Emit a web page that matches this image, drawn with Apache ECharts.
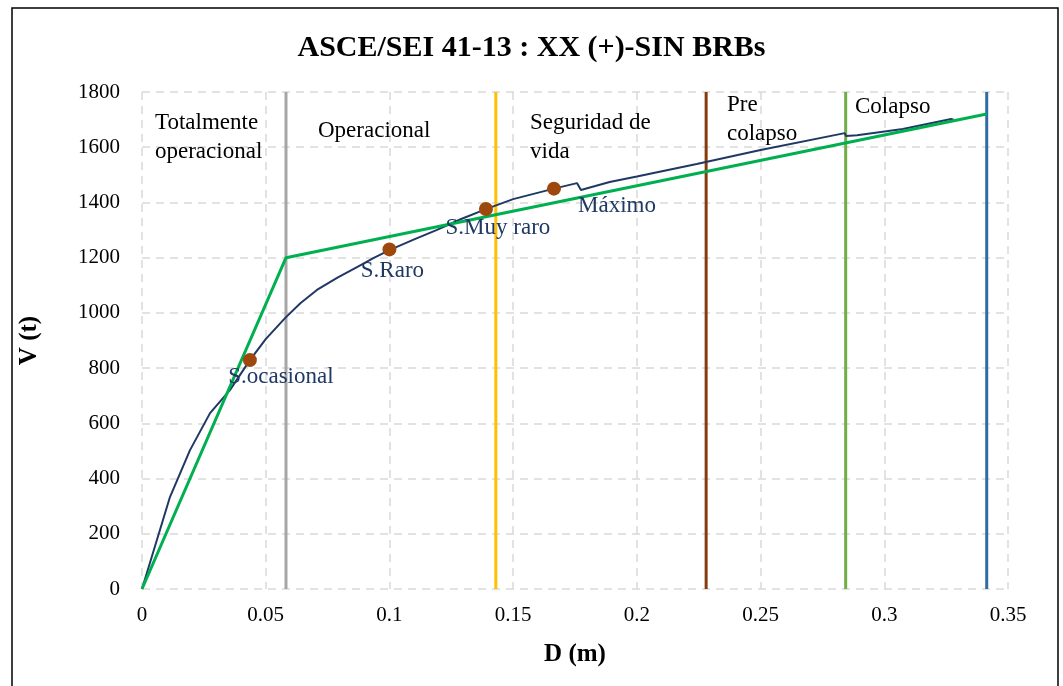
<!DOCTYPE html>
<html><head><meta charset="utf-8">
<script src="https://cdn.jsdelivr.net/npm/echarts@6/dist/echarts.min.js"></script>
<style>html,body{margin:0;padding:0;background:#fff}#c{width:1063px;height:686px}</style>
</head><body><div id="c"></div>
<script>
// Capacity (pushover) curve D (m), V (t)
const curveD = [0, 0.0113, 0.0194, 0.0275, 0.0356, 0.0436, 0.05, 0.0578, 0.064, 0.0707, 0.079, 0.0869, 0.0935, 0.1002, 0.11, 0.119, 0.129, 0.139, 0.15, 0.1665, 0.1758, 0.1774, 0.189, 0.2, 0.2242, 0.2246, 0.25, 0.284, 0.2845, 0.289, 0.3075, 0.327, 0.328];
const curveV = [0, 333, 503, 637, 721, 829, 905, 981, 1035, 1083, 1128, 1166, 1198, 1228, 1266, 1300, 1340, 1376, 1412, 1450, 1470, 1445, 1474, 1494, 1539, 1546, 1590, 1651, 1641, 1643, 1666, 1702, 1700];
// Bilinear idealisation
const bilinD = [0, 0.0582, 0.3414];
const bilinV = [0, 1200, 1720];
// Performance points
const pointNames = ['S.ocasional', 'S.Raro', 'S.Muy raro', 'Máximo'];
const pointD = [0.0436, 0.1, 0.139, 0.1665];
const pointV = [829, 1230, 1376, 1450];
// Performance level limits
const limitD = [0.0582, 0.143, 0.228, 0.2844, 0.3414];
const zoneNames = ['Totalmente\noperacional', 'Operacional', 'Seguridad de\nvida', 'Pre\ncolapso', 'Colapso'];
const xTicks = ['0', '0.05', '0.1', '0.15', '0.2', '0.25', '0.3', '0.35'];

const limitColors = ['#A6A6A6', '#FFC000', '#843C0C', '#70AD47', '#2E6DA4'];
const labelOffsets = [[31, 17], [3, 22], [12, 19], [63, 17]];
const zonePos = [[155, 108], [318, 116], [530, 108], [727, 90], [855, 92]];

const serif = '"Liberation Serif", "Times New Roman", serif';
const chart = echarts.init(document.getElementById('c'));

const series = [];
limitD.forEach((d, i) => {
  series.push({
    type: 'line', data: [[d, 0], [d, 1800]], symbol: 'none', silent: true,
    lineStyle: { color: limitColors[i], width: 3 }, z: 2
  });
});
series.push({
  type: 'line', data: curveD.map((d, i) => [d, curveV[i]]), symbol: 'none',
  lineStyle: { color: '#1F3864', width: 2 }, z: 3
});
series.push({
  type: 'line', data: bilinD.map((d, i) => [d, bilinV[i]]), symbol: 'none',
  lineStyle: { color: '#00B050', width: 3 }, z: 4
});
series.push({
  type: 'scatter', symbolSize: 14, z: 5,
  itemStyle: { color: '#9E480E', opacity: 1 },
  data: pointD.map((d, i) => ({
    value: [d, pointV[i]], name: pointNames[i],
    label: { show: true, position: 'inside', offset: labelOffsets[i], formatter: '{b}' }
  })),
  label: { color: '#1F3864', fontFamily: serif, fontSize: 23, opacity: 1 }
});

const graphics = [{
  type: 'rect', shape: { x: 12, y: 8, width: 1046, height: 700 },
  style: { fill: 'none', stroke: '#000', lineWidth: 1.5 }, silent: true
}];
zoneNames.forEach((t, i) => {
  graphics.push({
    type: 'text', left: zonePos[i][0], top: zonePos[i][1], z: 10,
    style: { text: t, font: '23px ' + serif, fill: '#000', lineHeight: 29 }
  });
});

chart.setOption({
  animation: false,
  backgroundColor: '#fff',
  title: {
    text: 'ASCE/SEI 41-13 : XX (+)-SIN BRBs', left: 'center', top: 28,
    textStyle: { fontFamily: serif, fontWeight: 'bold', fontSize: 30, color: '#000' }
  },
  grid: { left: 142, right: 55, top: 92, bottom: 97 },
  xAxis: {
    type: 'value', min: 0, max: 0.35, interval: 0.05,
    name: 'D (m)', nameLocation: 'middle', nameGap: 53,
    nameTextStyle: { fontFamily: serif, fontWeight: 'bold', fontSize: 25, color: '#000' },
    axisLine: { show: false }, axisTick: { show: false },
    axisLabel: { fontFamily: serif, fontSize: 21, color: '#000', margin: 16,
      formatter: (v) => xTicks[Math.round(v / 0.05)] },
    splitLine: { show: true, lineStyle: { color: '#D9D9D9', type: [8, 6], width: 1.5 } }
  },
  yAxis: {
    type: 'value', min: 0, max: 1800, interval: 200,
    name: 'V (t)', nameLocation: 'middle', nameGap: 100, nameRotate: 90,
    nameTextStyle: { fontFamily: serif, fontWeight: 'bold', fontSize: 25, color: '#000' },
    axisLine: { show: false }, axisTick: { show: false },
    axisLabel: { fontFamily: serif, fontSize: 21, color: '#000', margin: 22,
      formatter: (v) => String(v) },
    splitLine: { show: true, lineStyle: { color: '#D9D9D9', type: [8, 6], width: 1.5 } }
  },
  graphic: graphics,
  series: series
});
</script></body></html>
